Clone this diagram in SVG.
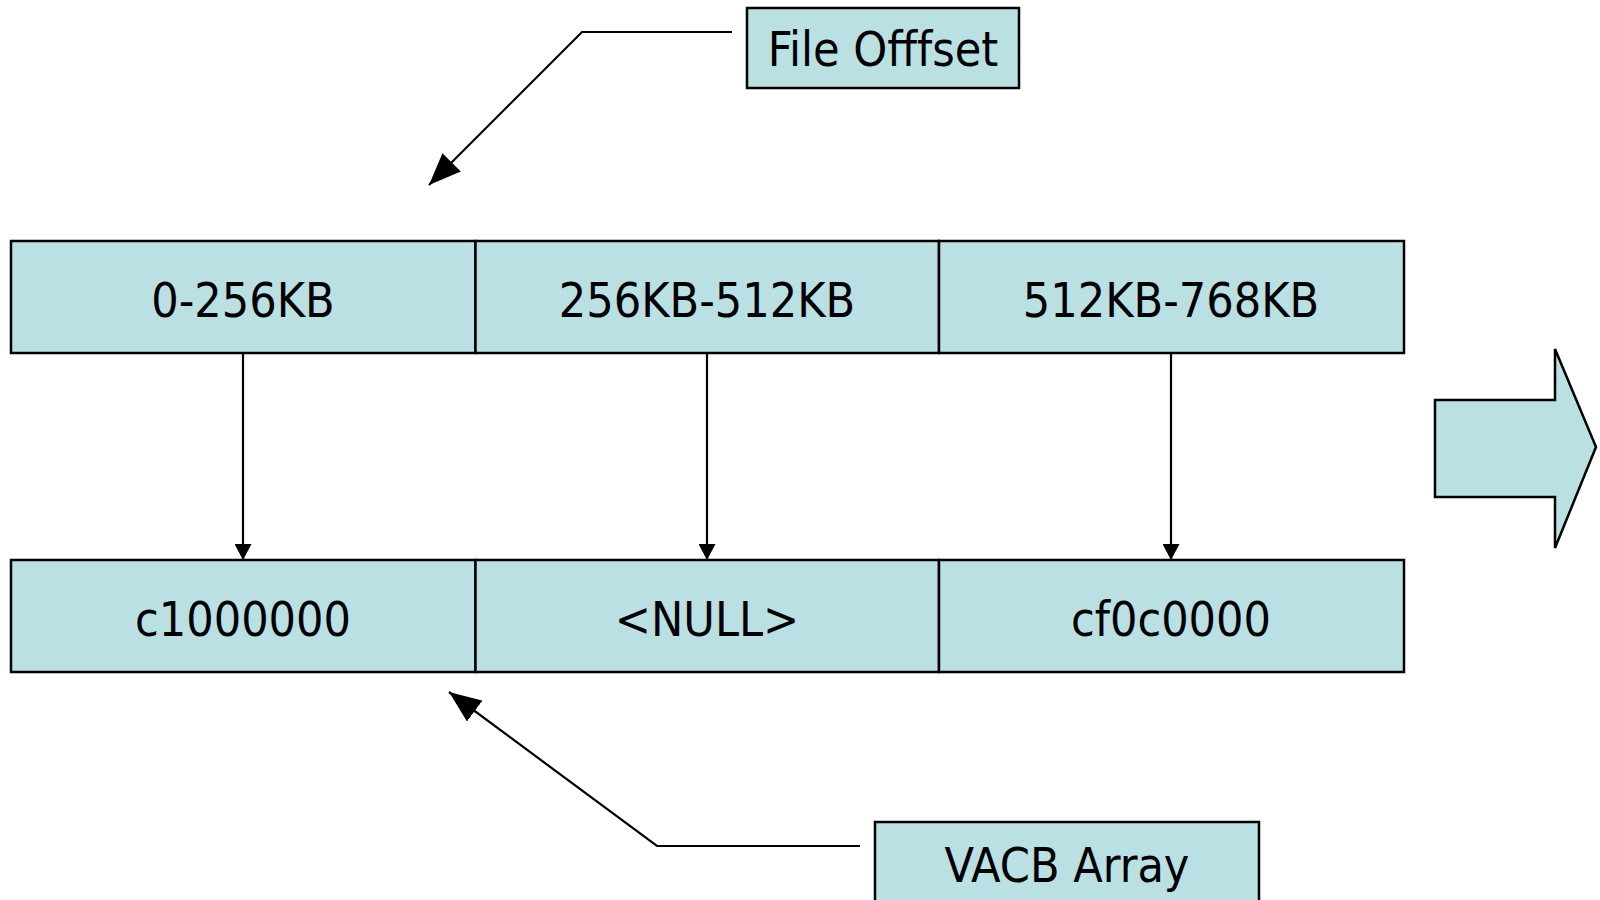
<svg xmlns="http://www.w3.org/2000/svg" width="1600" height="900" viewBox="0 0 1600 900">
<defs>
<style>
.box{fill:#bbe0e3;stroke:#000;stroke-width:2.5}
.t{font-family:"DejaVu Sans Condensed","DejaVu Sans",sans-serif;font-size:48px;fill:#000;text-anchor:middle}
.c{fill:none;stroke:#000;stroke-width:2.2}
</style>
<marker id="big" viewBox="0 0 10 10" refX="10" refY="5" markerWidth="16" markerHeight="17" markerUnits="userSpaceOnUse" orient="auto" preserveAspectRatio="none">
<path d="M0,0 L10,5 L0,10 z" fill="#000"/>
</marker>
<marker id="bigA" viewBox="0 0 10 10" refX="10" refY="5" markerWidth="32" markerHeight="26" markerUnits="userSpaceOnUse" orient="auto" preserveAspectRatio="none">
<path d="M0,0 L10,5 L0,10 z" fill="#000"/>
</marker>
</defs>
<rect width="1600" height="900" fill="#fff"/>
<g id="file-offset">
<rect class="box" x="747" y="8" width="272" height="80"/>
<text class="t" x="883" y="66">File Offfset</text>
</g>
<g id="r0">
<rect class="box" x="11" y="241" width="464.5" height="112"/>
<text class="t" x="243" y="317">0-256KB</text>
</g>
<g id="r1">
<rect class="box" x="475.5" y="241" width="463.5" height="112"/>
<text class="t" x="707" y="317">256KB-512KB</text>
</g>
<g id="r2">
<rect class="box" x="939" y="241" width="465" height="112"/>
<text class="t" x="1171" y="317">512KB-768KB</text>
</g>
<g id="v0">
<rect class="box" x="11" y="560" width="464.5" height="112"/>
<text class="t" x="243" y="636">c1000000</text>
</g>
<g id="v1">
<rect class="box" x="475.5" y="560" width="463.5" height="112"/>
<text class="t" x="707" y="636">&lt;NULL&gt;</text>
</g>
<g id="v2">
<rect class="box" x="939" y="560" width="465" height="112"/>
<text class="t" x="1171" y="636">cf0c0000</text>
</g>
<g id="big-arrow">
<path class="box" d="M1435,400 L1555,400 L1555,349 L1596,447 L1555,548 L1555,497 L1435,497 Z"/>
</g>
<g id="vacb-array">
<rect class="box" x="875" y="822" width="384" height="90"/>
<text class="t" x="1067" y="882">VACB Array</text>
</g>
<g id="connectors">
<path class="c" d="M243,353 V560" marker-end="url(#big)"/>
<path class="c" d="M707,353 V560" marker-end="url(#big)"/>
<path class="c" d="M1171,353 V560" marker-end="url(#big)"/>
<path class="c" d="M732,32 H582 L429,185" marker-end="url(#bigA)"/>
<path class="c" d="M860,846 H657 L449,692" marker-end="url(#bigA)"/>
</g>
</svg>
